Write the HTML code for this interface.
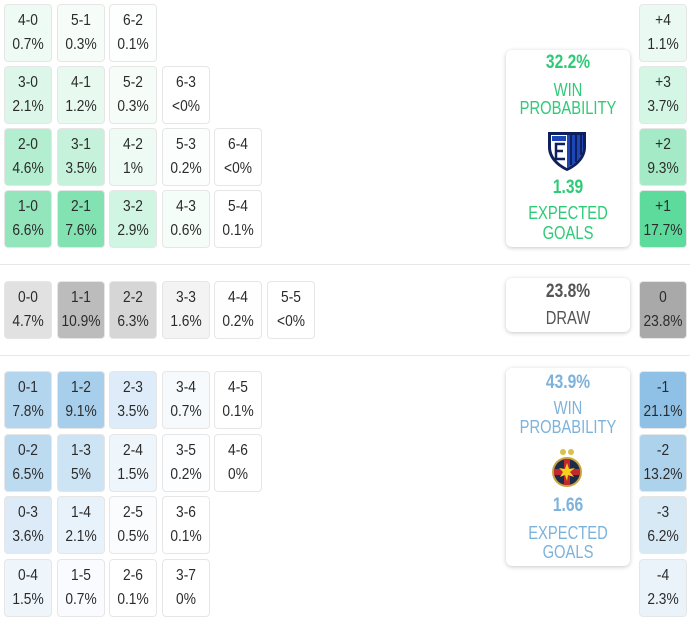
<!DOCTYPE html>
<html><head><meta charset="utf-8">
<style>
html,body{margin:0;padding:0;background:#fff;}
body{width:690px;height:619px;position:relative;overflow:hidden;font-family:"Liberation Sans",sans-serif;color:#2b2b2b;}
.c{position:absolute;width:46px;height:56px;border:1px solid #e6e6e6;border-radius:4px;box-sizing:content-box;}
.c .t{position:absolute;left:-10px;right:-10px;text-align:center;font-size:16px;line-height:20px;transform:scaleX(0.86);}
.c .a{top:6px;}
.c .b{top:30px;}
.hl{position:absolute;left:0;width:690px;height:1px;background:#e8e8e8;}
.box{position:absolute;left:506px;width:124px;background:#fff;border-radius:6px;box-shadow:0 1px 4px rgba(0,0,0,0.22);}
.box .l{position:absolute;left:-20px;right:-20px;text-align:center;transform:scaleX(0.82);line-height:20px;}
.g{color:#2fca77;}
.bl{color:#7db3db;}
.big{font-size:18px;}
.bold{font-weight:bold;font-size:19px;}
</style></head><body>

<div class="c" style="left:4px;top:4px;background:#eefbf4"><div class="t a">4-0</div><div class="t b">0.7%</div></div>
<div class="c" style="left:57px;top:4px;background:#f6fdf9"><div class="t a">5-1</div><div class="t b">0.3%</div></div>
<div class="c" style="left:109px;top:4px;background:#fcfffd"><div class="t a">6-2</div><div class="t b">0.1%</div></div>

<div class="c" style="left:4px;top:66px;background:#dcf7e9"><div class="t a">3-0</div><div class="t b">2.1%</div></div>
<div class="c" style="left:57px;top:66px;background:#e8f9f0"><div class="t a">4-1</div><div class="t b">1.2%</div></div>
<div class="c" style="left:109px;top:66px;background:#f6fdf9"><div class="t a">5-2</div><div class="t b">0.3%</div></div>
<div class="c" style="left:162px;top:66px;background:#fff"><div class="t a">6-3</div><div class="t b">&lt;0%</div></div>

<div class="c" style="left:4px;top:128px;background:#b3eed0"><div class="t a">2-0</div><div class="t b">4.6%</div></div>
<div class="c" style="left:57px;top:128px;background:#c6f2db"><div class="t a">3-1</div><div class="t b">3.5%</div></div>
<div class="c" style="left:109px;top:128px;background:#edfbf4"><div class="t a">4-2</div><div class="t b">1%</div></div>
<div class="c" style="left:162px;top:128px;background:#fcfefd"><div class="t a">5-3</div><div class="t b">0.2%</div></div>
<div class="c" style="left:214px;top:128px;background:#fff"><div class="t a">6-4</div><div class="t b">&lt;0%</div></div>

<div class="c" style="left:4px;top:190px;background:#93e6bc"><div class="t a">1-0</div><div class="t b">6.6%</div></div>
<div class="c" style="left:57px;top:190px;background:#82e2b2"><div class="t a">2-1</div><div class="t b">7.6%</div></div>
<div class="c" style="left:109px;top:190px;background:#d0f5e2"><div class="t a">3-2</div><div class="t b">2.9%</div></div>
<div class="c" style="left:162px;top:190px;background:#f5fdf9"><div class="t a">4-3</div><div class="t b">0.6%</div></div>
<div class="c" style="left:214px;top:190px;background:#fff"><div class="t a">5-4</div><div class="t b">0.1%</div></div>

<div class="c" style="left:639px;top:4px;background:#eafaf2"><div class="t a">+4</div><div class="t b">1.1%</div></div>
<div class="c" style="left:639px;top:66px;background:#d4f6e4"><div class="t a">+3</div><div class="t b">3.7%</div></div>
<div class="c" style="left:639px;top:128px;background:#a4eac6"><div class="t a">+2</div><div class="t b">9.3%</div></div>
<div class="c" style="left:639px;top:190px;background:#5cdb9c"><div class="t a">+1</div><div class="t b">17.7%</div></div>

<div class="box" style="top:50px;height:197px;">
  <div class="l g bold" style="top:3px;">32.2%</div>
  <div class="l g big" style="top:30px;">WIN</div>
  <div class="l g big" style="top:48px;">PROBABILITY</div>
  <svg style="position:absolute;left:40px;top:79px;" width="42" height="43" viewBox="0 0 42 43">
    <path d="M2 3 L40 3 L40 18 C40 30 30 38 21 42 C12 38 2 30 2 18 Z" fill="#0d1f5c"/>
    <path d="M5 6 L37 6 L37 18 C37 28 29 35 21 39 C13 35 5 28 5 18 Z" fill="#fff"/>
    <path d="M21 6 L37 6 L37 18 C37 28 29 35 21 39 Z" fill="#1d47b8"/>
    <rect x="24" y="6" width="2" height="30" fill="#0d1f5c"/>
    <rect x="29" y="6" width="2" height="27" fill="#0d1f5c"/>
    <rect x="34" y="6" width="2" height="20" fill="#0d1f5c"/>
    <rect x="6" y="7" width="14" height="5" fill="#1d47b8"/>
    <path d="M19 15 L10 15 L10 30 L19 30 M10 22 L17 22" stroke="#0d1f5c" stroke-width="2.5" fill="none"/>
  </svg>
  <div class="l g bold" style="top:128px;">1.39</div>
  <div class="l g big" style="top:153px;">EXPECTED</div>
  <div class="l g big" style="top:173px;">GOALS</div>
</div>

<div class="hl" style="top:264px;"></div>

<div class="c" style="left:4px;top:281px;background:#e1e1e1"><div class="t a">0-0</div><div class="t b">4.7%</div></div>
<div class="c" style="left:57px;top:281px;background:#bcbcbc"><div class="t a">1-1</div><div class="t b">10.9%</div></div>
<div class="c" style="left:109px;top:281px;background:#d6d6d6"><div class="t a">2-2</div><div class="t b">6.3%</div></div>
<div class="c" style="left:162px;top:281px;background:#f3f3f3"><div class="t a">3-3</div><div class="t b">1.6%</div></div>
<div class="c" style="left:214px;top:281px;background:#fefefe"><div class="t a">4-4</div><div class="t b">0.2%</div></div>
<div class="c" style="left:267px;top:281px;background:#fff"><div class="t a">5-5</div><div class="t b">&lt;0%</div></div>

<div class="box" style="top:278px;height:54px;">
  <div class="l bold" style="top:4px;color:#555;">23.8%</div>
  <div class="l big" style="top:30px;color:#555;">DRAW</div>
</div>
<div class="c" style="left:639px;top:281px;background:#a9a9a9"><div class="t a">0</div><div class="t b">23.8%</div></div>

<div class="hl" style="top:355px;"></div>

<div class="c" style="left:4px;top:371px;background:#b4d5ee"><div class="t a">0-1</div><div class="t b">7.8%</div></div>
<div class="c" style="left:57px;top:371px;background:#a7ceeb"><div class="t a">1-2</div><div class="t b">9.1%</div></div>
<div class="c" style="left:109px;top:371px;background:#ddecf8"><div class="t a">2-3</div><div class="t b">3.5%</div></div>
<div class="c" style="left:162px;top:371px;background:#f6fafd"><div class="t a">3-4</div><div class="t b">0.7%</div></div>
<div class="c" style="left:214px;top:371px;background:#fff"><div class="t a">4-5</div><div class="t b">0.1%</div></div>

<div class="c" style="left:4px;top:434px;background:#bddbf0"><div class="t a">0-2</div><div class="t b">6.5%</div></div>
<div class="c" style="left:57px;top:434px;background:#cde4f4"><div class="t a">1-3</div><div class="t b">5%</div></div>
<div class="c" style="left:109px;top:434px;background:#eef5fb"><div class="t a">2-4</div><div class="t b">1.5%</div></div>
<div class="c" style="left:162px;top:434px;background:#fdfeff"><div class="t a">3-5</div><div class="t b">0.2%</div></div>
<div class="c" style="left:214px;top:434px;background:#fff"><div class="t a">4-6</div><div class="t b">0%</div></div>

<div class="c" style="left:4px;top:496px;background:#dcebf7"><div class="t a">0-3</div><div class="t b">3.6%</div></div>
<div class="c" style="left:57px;top:496px;background:#e8f2fa"><div class="t a">1-4</div><div class="t b">2.1%</div></div>
<div class="c" style="left:109px;top:496px;background:#fafcfe"><div class="t a">2-5</div><div class="t b">0.5%</div></div>
<div class="c" style="left:162px;top:496px;background:#fff"><div class="t a">3-6</div><div class="t b">0.1%</div></div>

<div class="c" style="left:4px;top:559px;background:#eef5fb"><div class="t a">0-4</div><div class="t b">1.5%</div></div>
<div class="c" style="left:57px;top:559px;background:#f9fbfe"><div class="t a">1-5</div><div class="t b">0.7%</div></div>
<div class="c" style="left:109px;top:559px;background:#fff"><div class="t a">2-6</div><div class="t b">0.1%</div></div>
<div class="c" style="left:162px;top:559px;background:#fff"><div class="t a">3-7</div><div class="t b">0%</div></div>

<div class="c" style="left:639px;top:371px;background:#8fc1e6"><div class="t a">-1</div><div class="t b">21.1%</div></div>
<div class="c" style="left:639px;top:434px;background:#add2ec"><div class="t a">-2</div><div class="t b">13.2%</div></div>
<div class="c" style="left:639px;top:496px;background:#d8e9f6"><div class="t a">-3</div><div class="t b">6.2%</div></div>
<div class="c" style="left:639px;top:559px;background:#eaf3fa"><div class="t a">-4</div><div class="t b">2.3%</div></div>

<div class="box" style="top:368px;height:198px;">
  <div class="l bl bold" style="top:5px;">43.9%</div>
  <div class="l bl big" style="top:30px;">WIN</div>
  <div class="l bl big" style="top:49px;">PROBABILITY</div>
  <svg style="position:absolute;left:44px;top:80px;" width="34" height="40" viewBox="0 0 34 40">
    <circle cx="13" cy="4" r="3" fill="#d8c24a"/>
    <circle cx="21" cy="4" r="3" fill="#d8c24a"/>
    <circle cx="17" cy="24" r="15" fill="#c9a43a"/>
    <circle cx="17" cy="24" r="13" fill="#1d2a4a"/>
    <rect x="14" y="11" width="6" height="26" fill="#c2282e"/>
    <rect x="4" y="21" width="26" height="6" fill="#c2282e"/>
    <polygon points="17,15 19,21 25,20 20,24 24,29 18,27 17,33 15,27 10,29 13,24 9,20 15,21" fill="#f7d21c"/>
  </svg>
  <div class="l bl bold" style="top:128px;">1.66</div>
  <div class="l bl big" style="top:155px;">EXPECTED</div>
  <div class="l bl big" style="top:174px;">GOALS</div>
</div>

</body></html>
